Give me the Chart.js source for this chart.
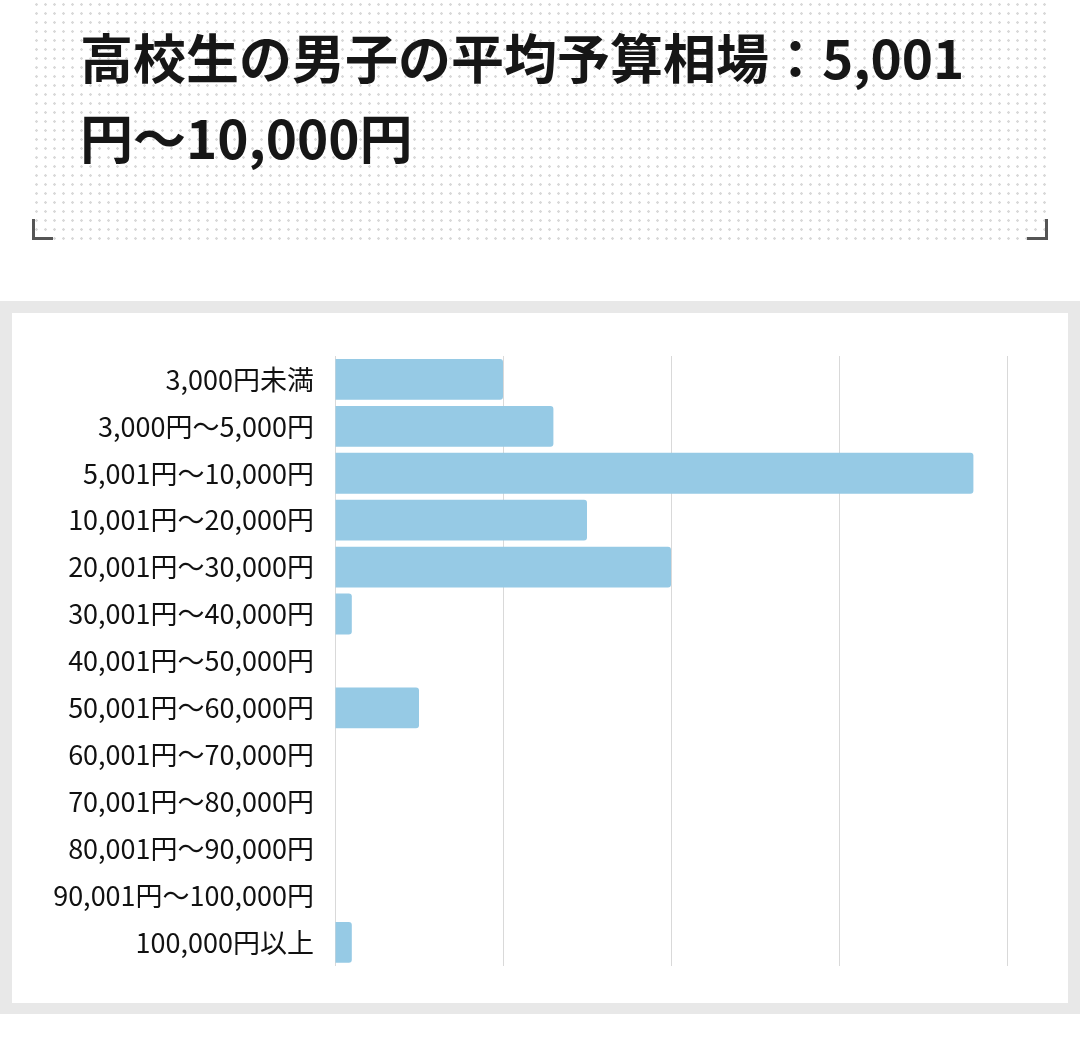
<!DOCTYPE html>
<html lang="ja">
<head>
<meta charset="utf-8">
<script src="https://cdn.jsdelivr.net/npm/chart.js@4"></script>
<style>
  body { margin: 0; width: 1080px; height: 1050px; background: #fff; font-family: "Noto Sans CJK JP", "Noto Sans", sans-serif; position: relative; overflow: hidden; }
  .head { position: absolute; left: 32px; top: 0; width: 1016px; height: 240px;
    background-image: radial-gradient(circle, #d9d9d9 1.1px, transparent 1.5px);
    background-size: 9px 9px; background-position: 0 0; }
  .head h1 { position: absolute; left: 48px; top: 16px; margin: 0; font-size: 53px; line-height: 80px; font-weight: 700; color: #161616; white-space: nowrap; }
  .corner { position: absolute; bottom: 0; width: 18px; height: 18px; border-bottom: 3px solid #555; }
  .corner.l { left: 0; border-left: 3px solid #555; }
  .corner.r { right: 0; border-right: 3px solid #555; }
  .frame { position: absolute; left: 0; top: 301px; width: 1080px; height: 713px; background: #e8e8e8; }
  .inner { position: absolute; left: 12px; top: 12px; width: 1056px; height: 690px; background: #fff; }
</style>
</head>
<body>
<div class="head">
  <h1>高校生の男子の平均予算相場：5,001<br>円～10,000円</h1>
  <div class="corner l"></div>
  <div class="corner r"></div>
</div>
<div class="frame">
  <div class="inner"><canvas id="budgetChart" width="1056" height="690"></canvas></div>
</div>
<script>
const categories = [
  "3,000円未満", "3,000円～5,000円", "5,001円～10,000円", "10,001円～20,000円",
  "20,001円～30,000円", "30,001円～40,000円", "40,001円～50,000円", "50,001円～60,000円",
  "60,001円～70,000円", "70,001円～80,000円", "80,001円～90,000円", "90,001円～100,000円",
  "100,000円以上"
];
const shares = [10, 13, 38, 15, 20, 1, 0, 5, 0, 0, 0, 0, 1];
const xMax = 40;
const xStep = 10;

const ctx = document.getElementById("budgetChart").getContext("2d");
new Chart(ctx, {
  type: 'bar',
  data: {
    labels: categories,
    datasets: [{
      data: shares,
      backgroundColor: '#96cae5',
      borderRadius: 3,
      borderSkipped: 'start',
      categoryPercentage: 1,
      barPercentage: 0.87
    }]
  },
  options: {
    indexAxis: 'y',
    responsive: false,
    animation: false,
    layout: { padding: { left: 0, right: 61, top: 43, bottom: 34 } },
    plugins: { legend: { display: false }, tooltip: { enabled: false } },
    scales: {
      x: {
        min: 0, max: xMax,
        ticks: { display: false, stepSize: xStep },
        grid: { color: '#d9d9d9', drawTicks: false },
        border: { display: false }
      },
      y: {
        grid: { display: false, drawTicks: false },
        border: { display: true, color: '#d9d9d9' },
        ticks: { color: '#111', padding: 21, font: { size: 27, family: '"Noto Sans CJK JP", sans-serif' } },
        afterFit: scale => { scale.width = 323; }
      }
    }
  }
});
</script>
</body>
</html>
